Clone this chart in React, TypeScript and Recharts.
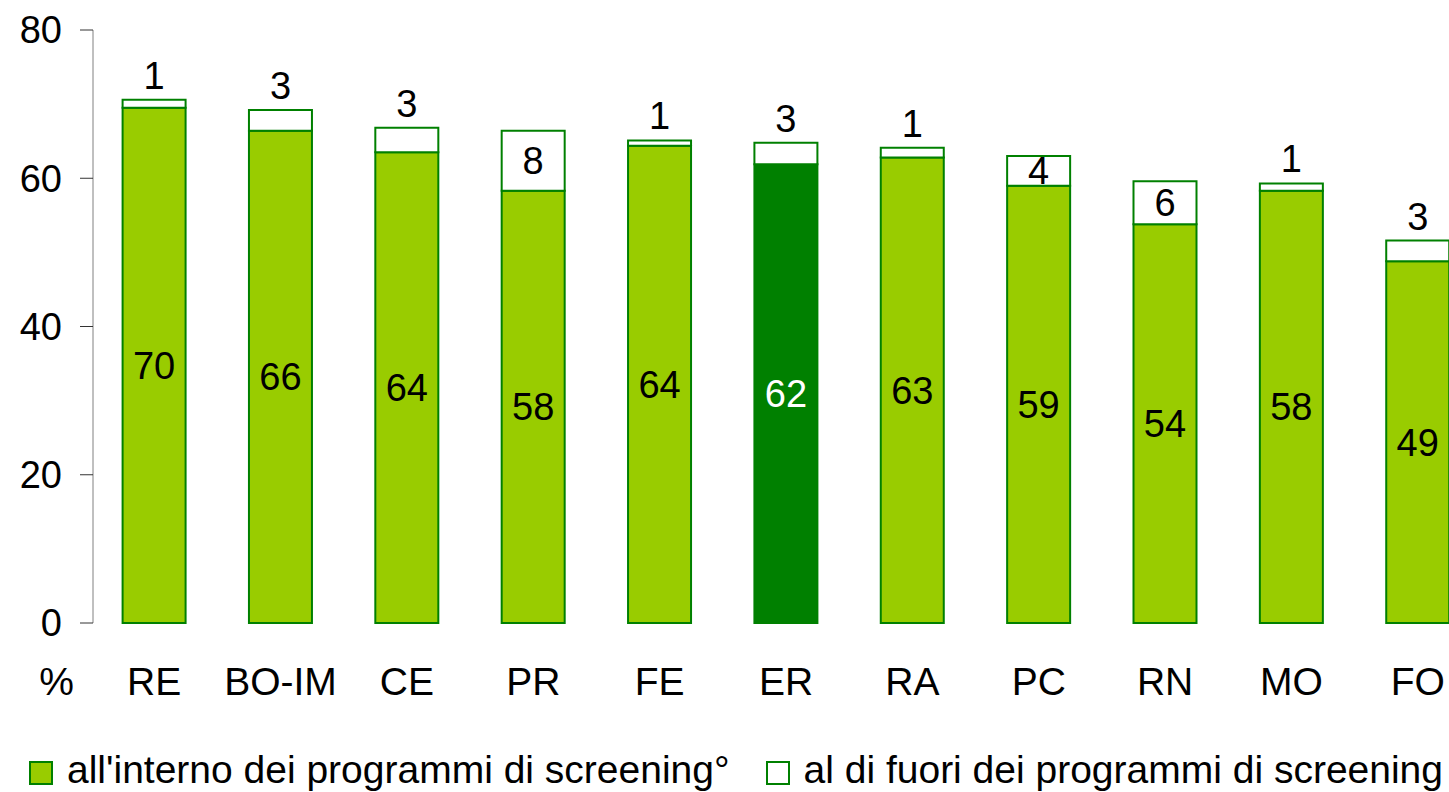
import { BarChart, Bar, XAxis, YAxis, Legend, LabelList, Cell } from "recharts";

const FONT = "'Liberation Sans', Arial, sans-serif";

const districts = ["RE", "BO-IM", "CE", "PR", "FE", "ER", "RA", "PC", "RN", "MO", "FO"];
const insideScreening = [69.5, 66.4, 63.5, 58.3, 64.4, 61.9, 62.8, 59.0, 53.8, 58.3, 48.8];
const outsideScreening = [1.1, 2.8, 3.3, 8.1, 0.7, 2.9, 1.3, 4.0, 5.8, 1.0, 2.8];
const yTicks = [0, 20, 40, 60, 80];
const seriesNames = [
  "all'interno dei programmi di screening°",
  "al di fuori dei programmi di screening",
];
const regionTotal = "ER";

const LIGHT_GREEN = "#99CC00";
const DARK_GREEN = "#008000";

const data = districts.map((name, i) => ({
  name,
  inside: insideScreening[i],
  outside: outsideScreening[i],
}));

// LabelList may hand the box either flat or inside viewBox
const box = (props: any) => {
  const vb = props.viewBox && props.viewBox.width != null ? props.viewBox : props;
  return { x: Number(vb.x), y: Number(vb.y), width: Number(vb.width), height: Number(vb.height) };
};

const InsideLabel = (props: any) => {
  const { x, y, width, height } = box(props);
  const isRegion = districts[props.index] === regionTotal;
  return (
    <text
      x={x + width / 2}
      y={y + height / 2}
      dy="0.355em"
      textAnchor="middle"
      fontFamily={FONT}
      fontSize={38}
      fill={isRegion ? "#fff" : "#000"}
    >
      {Math.round(Number(props.value))}
    </text>
  );
};

// small segments get their number above the bar, larger ones inside
const OutsideLabel = (props: any) => {
  const { x, y, width, height } = box(props);
  const v = Number(props.value);
  const fits = v >= 4;
  return (
    <text
      x={x + width / 2}
      y={fits ? y + height / 2 : y - 11}
      dy={fits ? "0.355em" : 0}
      textAnchor="middle"
      fontFamily={FONT}
      fontSize={38}
      fill="#000"
    >
      {Math.round(v)}
    </text>
  );
};

const LegendContent = () => (
  <div
    style={{
      display: "flex",
      fontFamily: FONT,
      fontSize: 39,
      lineHeight: "44px",
      color: "#000",
      whiteSpace: "nowrap",
    }}
  >
    {seriesNames.map((label, i) => (
      <div key={label} style={{ display: "flex", alignItems: "flex-start", marginLeft: i === 0 ? 0 : 36 }}>
        <span
          style={{
            display: "inline-block",
            boxSizing: "border-box",
            width: 24,
            height: 24,
            marginTop: 13,
            background: i === 0 ? LIGHT_GREEN : "#fff",
            border: `2px solid ${DARK_GREEN}`,
          }}
        />
        <span style={{ marginLeft: 14 }}>{label}</span>
      </div>
    ))}
  </div>
);

const PercentLabel = () => (
  <text x={56.5} y={695} textAnchor="middle" fontFamily={FONT} fontSize={39} fill="#000">
    %
  </text>
);

export default function App() {
  return (
    <div
      style={{
        position: "absolute",
        left: 0,
        top: 0,
        width: 1449,
        height: 792,
        overflow: "hidden",
        background: "#fff",
      }}
    >
      <BarChart
        width={1481}
        height={792}
        data={data}
        margin={{ top: 30, right: 0, left: 0, bottom: 0 }}
        barCategoryGap="25%"
      >
        <XAxis
          dataKey="name"
          axisLine={false}
          tickLine={false}
          tickSize={0}
          tickMargin={44}
          height={125}
          interval={0}
          padding={{ left: -2, right: 0 }}
          tick={{ fill: "#000", fontSize: 39, fontFamily: FONT }}
        />
        <YAxis
          width={93}
          domain={[0, 80]}
          ticks={yTicks}
          tickSize={13}
          tickMargin={18}
          axisLine={{ stroke: "#808080", strokeWidth: 1 }}
          tickLine={{ stroke: "#333" }}
          tick={{ fill: "#000", fontSize: 38, fontFamily: FONT }}
          label={{ content: <PercentLabel /> }}
        />
        <Legend
          content={<LegendContent />}
          verticalAlign="bottom"
          wrapperStyle={{ left: 29, top: 748, bottom: "auto", width: "auto", height: 44 }}
        />
        <Bar
          dataKey="inside"
          name={seriesNames[0]}
          stackId="a"
          fill={LIGHT_GREEN}
          stroke={DARK_GREEN}
          strokeWidth={2}
          isAnimationActive={false}
        >
          {data.map((d) => (
            <Cell key={d.name} fill={d.name === regionTotal ? DARK_GREEN : LIGHT_GREEN} />
          ))}
          <LabelList dataKey="inside" content={<InsideLabel />} />
        </Bar>
        <Bar
          dataKey="outside"
          name={seriesNames[1]}
          stackId="a"
          fill="#fff"
          stroke={DARK_GREEN}
          strokeWidth={2}
          isAnimationActive={false}
        >
          <LabelList dataKey="outside" content={<OutsideLabel />} />
        </Bar>
      </BarChart>
    </div>
  );
}
